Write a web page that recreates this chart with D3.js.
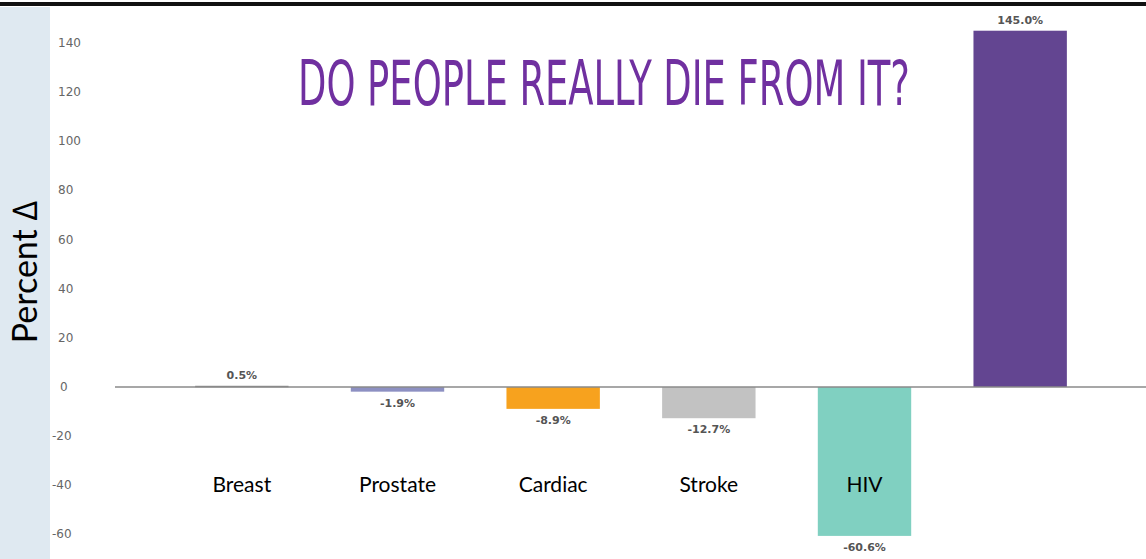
<!DOCTYPE html>
<html><head><meta charset="utf-8">
<script src="https://cdn.jsdelivr.net/npm/d3@7"></script>
<style>html,body{margin:0;padding:0;background:#fff;overflow:hidden}</style>
</head><body>
<svg id="chart" width="1146" height="559"></svg>
<script>
const categories = ["Breast","Prostate","Cardiac","Stroke","HIV",""];
const values = [0.5, -1.9, -8.9, -12.7, -60.6, 145.0];
const valueLabels = ["0.5%","-1.9%","-8.9%","-12.7%","-60.6%","145.0%"];
const barColors = ["#8c8c8c","#8d90c2","#f7a21e","#c2c2c2","#80d0c1","#634591"];
const yTicks = [-60,-40,-20,0,20,40,60,80,100,120,140];
const title = "DO PEOPLE REALLY DIE FROM IT?";
const yTitle = "Percent \u2206";

const svg = d3.select("#chart");
const W = 1146, H = 559;

svg.append("rect").attr("x",0).attr("y",7).attr("width",50).attr("height",H-7).attr("fill","#dfe9f1");
svg.append("rect").attr("x",0).attr("y",2).attr("width",W).attr("height",4).attr("fill","#111");

const y = d3.scaleLinear().domain([0,140]).range([387,43]);
const x = d3.scaleBand().domain(d3.range(categories.length)).range([164,1098]).paddingInner(0.4).paddingOuter(0.2);

svg.append("g").selectAll("text").data(yTicks).join("text")
  .attr("x", d => d < 0 ? 52 : 58 + (d===0?2:0))
  .attr("y", d => y(d) + 4)
  .attr("font-family","DejaVu Sans, sans-serif")
  .attr("font-size",12)
  .attr("fill","#666")
  .text(d => d);

svg.append("g").selectAll("rect").data(values).join("rect")
  .attr("x",(d,i)=>x(i))
  .attr("width",x.bandwidth())
  .attr("y",d=>Math.min(y(d),y(0)))
  .attr("height",d=>Math.max(1.5,Math.abs(y(d)-y(0))))
  .attr("fill",(d,i)=>barColors[i]);

svg.append("line").attr("x1",115).attr("x2",W).attr("y1",y(0)).attr("y2",y(0))
  .attr("stroke","#8a8a8a").attr("stroke-width",1.6);

svg.append("g").selectAll("text").data(values).join("text")
  .attr("x",(d,i)=>x(i)+x.bandwidth()/2)
  .attr("y",d=> d>=0 ? y(d)-7 : y(d)+15)
  .attr("text-anchor","middle")
  .attr("font-family","DejaVu Sans, sans-serif")
  .attr("font-size",11)
  .attr("font-weight","bold")
  .attr("fill","#555")
  .text((d,i)=>valueLabels[i]);

svg.append("g").selectAll("text").data(categories).join("text")
  .attr("x",(d,i)=>x(i)+x.bandwidth()/2)
  .attr("y",492)
  .attr("text-anchor","middle")
  .attr("font-family","Lato, 'Open Sans', sans-serif")
  .attr("font-size",21)
  .attr("fill","#000")
  .text(d=>d);

svg.append("text")
  .attr("transform","translate(37,272) rotate(-90)")
  .attr("text-anchor","middle")
  .attr("font-family","Lato, 'Open Sans', sans-serif")
  .attr("font-size",34)
  .attr("fill","#000")
  .text(yTitle);

// main title, horizontally condensed to match the reference width
const tg = svg.append("g");
const tt = tg.append("text")
  .attr("x",0).attr("y",0)
  .attr("font-family","'DejaVu Sans Condensed', 'Liberation Sans Narrow', sans-serif")
  .attr("font-size",62)
  .attr("fill","#7030a0")
  .text(title);
const natural = tt.node().getComputedTextLength();
const targetW = 612;
tg.attr("transform",`translate(298,105) scale(${targetW/natural},1)`);
</script>
</body></html>
